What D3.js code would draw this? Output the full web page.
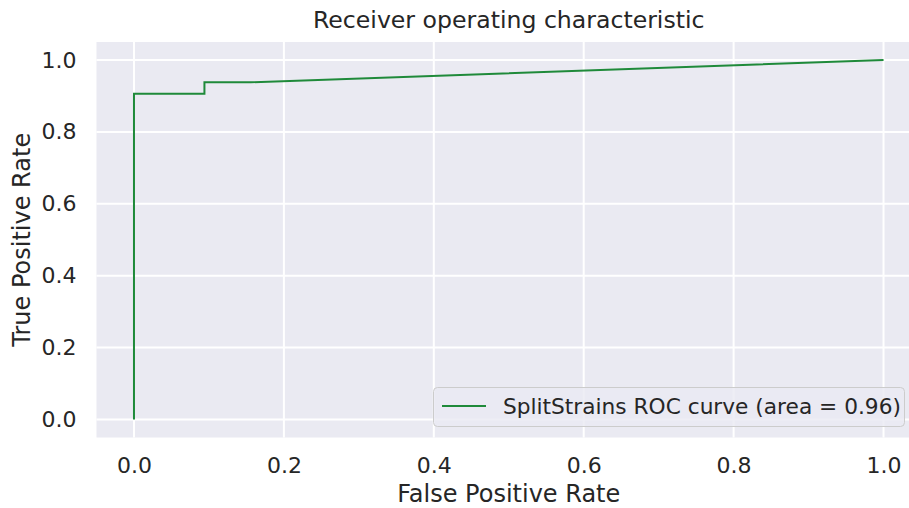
<!DOCTYPE html>
<html>
<head>
<meta charset="utf-8">
<script src="https://cdn.jsdelivr.net/npm/d3@7"></script>
<style>
  html, body { margin: 0; padding: 0; background: #ffffff; }
  svg { display: block; font-family: "DejaVu Sans", sans-serif; }
</style>
</head>
<body>
<svg id="chart" width="909" height="508"></svg>
<script>
const fpr = [0.0, 0.0, 0.094, 0.094, 0.156, 1.0];
const tpr = [0.0, 0.906, 0.906, 0.938, 0.938, 1.0];
const xTicks = [0.0, 0.2, 0.4, 0.6, 0.8, 1.0];
const yTicks = [0.0, 0.2, 0.4, 0.6, 0.8, 1.0];
const titleText = "Receiver operating characteristic";
const xLabel = "False Positive Rate";
const yLabel = "True Positive Rate";
const legendLabel = "SplitStrains ROC curve (area = 0.96)";

(function () {
const svg = d3.select("#chart");
const pL = 96.5, pR = 921, pT = 42, pB = 437.5;
const x = d3.scaleLinear().domain([-0.05, 1.05]).range([pL, pR]);
const y = d3.scaleLinear().domain([-0.05, 1.05]).range([pB, pT]);

svg.append("rect").attr("x", pL).attr("y", pT)
  .attr("width", pR - pL).attr("height", pB - pT).attr("fill", "#EAEAF2");

const gx = svg.append("g").attr("transform", `translate(0,${pB})`)
  .call(d3.axisBottom(x).tickValues(xTicks).tickFormat(d3.format(".1f")).tickSize(0).tickPadding(20));
gx.select(".domain").remove();
gx.selectAll("text").attr("font-size", 22).attr("fill", "#262626").attr("font-family", "DejaVu Sans");

const gy = svg.append("g").attr("transform", `translate(${pL},0)`)
  .call(d3.axisLeft(y).tickValues(yTicks).tickFormat(d3.format(".1f")).tickSize(0).tickPadding(20));
gy.select(".domain").remove();
gy.selectAll("text").attr("font-size", 22).attr("fill", "#262626").attr("font-family", "DejaVu Sans");

svg.append("g").selectAll("line").data(xTicks).join("line")
  .attr("x1", d => x(d)).attr("x2", d => x(d)).attr("y1", pT).attr("y2", pB)
  .attr("stroke", "#ffffff").attr("stroke-width", 2);
svg.append("g").selectAll("line").data(yTicks).join("line")
  .attr("y1", d => y(d)).attr("y2", d => y(d)).attr("x1", pL).attr("x2", pR)
  .attr("stroke", "#ffffff").attr("stroke-width", 2);

const pts = fpr.map((v, i) => [v, tpr[i]]);
svg.append("path").datum(pts)
  .attr("d", d3.line().x(d => x(d[0])).y(d => y(d[1])))
  .attr("fill", "none").attr("stroke", "#1f8a3a").attr("stroke-width", 2);

const lg = svg.append("g");
lg.append("rect").attr("x", 433.5).attr("y", 387.5).attr("width", 471).attr("height", 39)
  .attr("rx", 4).attr("fill", "#EAEAF2").attr("fill-opacity", 0.8)
  .attr("stroke", "#cccccc").attr("stroke-width", 1);
lg.append("line").attr("x1", 442).attr("x2", 486).attr("y1", 406).attr("y2", 406)
  .attr("stroke", "#1f8a3a").attr("stroke-width", 2);
lg.append("text").attr("x", 503).attr("y", 414).attr("font-size", 21.7).attr("fill", "#262626")
  .text(legendLabel);

svg.append("text").attr("x", (pL + pR) / 2).attr("y", 28).attr("text-anchor", "middle")
  .attr("font-size", 23.6).attr("fill", "#262626").text(titleText);
svg.append("text").attr("x", (pL + pR) / 2).attr("y", 502).attr("text-anchor", "middle")
  .attr("font-size", 24).attr("fill", "#262626").text(xLabel);
svg.append("text").attr("transform", `translate(30,${(pT + pB) / 2}) rotate(-90)`)
  .attr("text-anchor", "middle").attr("font-size", 24).attr("fill", "#262626").text(yLabel);
})();
</script>
</body>
</html>
